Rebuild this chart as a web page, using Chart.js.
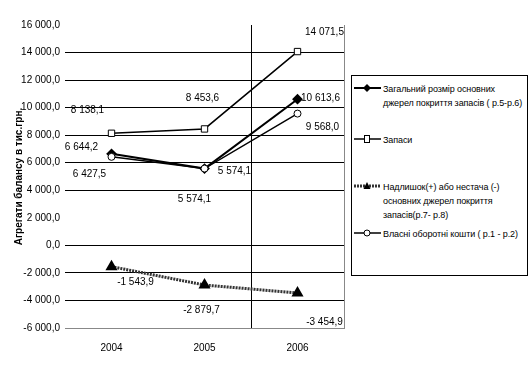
<!DOCTYPE html>
<html>
<head>
<meta charset="utf-8">
<script src="https://cdn.jsdelivr.net/npm/chart.js@4/dist/chart.umd.min.js"></script>
<style>
  html, body { margin: 0; padding: 0; background: #fff; }
  #wrap { position: relative; width: 532px; height: 371px; }
  #legend {
    position: absolute; left: 351px; top: 75px; width: 175px; height: 199px;
    border: 1px solid #000; background: #fff; overflow: hidden;
    font: 9px "Liberation Sans Narrow", "Arial Narrow", sans-serif; color: #000;
  }
  .item { position: absolute; left: 0; width: 175px; }
  .item svg { position: absolute; left: 1px; top: 0; }
  .item .txt { position: absolute; left: 31px; top: 1px; width: 143px; line-height: 14px; white-space: nowrap; letter-spacing: -0.1px; }
</style>
</head>
<body>
<div id="wrap">
  <canvas id="chart" width="532" height="371"></canvas>
  <div id="legend"></div>
</div>
<script>
const years = ["2004", "2005", "2006"];
const seriesNames = [
  "Загальний розмір основних джерел покриття запасів ( р.5-р.6)",
  "Запаси",
  "Надлишок(+) або нестача (-) основних джерел покриття запасів(р.7- р.8)",
  "Власні оборотні кошти ( р.1 - р.2)"
];
// legend wraps the names like the original
const legendLines = [
  ["Загальний розмір основних", "джерел покриття запасів ( р.5-р.6)"],
  ["Запаси"],
  ["Надлишок(+) або нестача (-)", "основних джерел покриття", "запасів(р.7- р.8)"],
  ["Власні оборотні кошти ( р.1 - р.2)"]
];
const totalSources = [6644.2, 5574.1, 10613.6];
const inventory = [8138.1, 8453.6, 14071.5];
const surplus = [-1543.9, -2879.7, -3454.9];
const ownCapital = [6427.5, 5574.1, 9568.0];

// where each value label sits relative to its point
const labelOffsets = [
  [[-30, -7], [30, 3], [23, -1]],
  [[-24, -23], [-2, -31], [27, -19]],
  [[24, 16], [-3, 25], [27, 29]],
  [[-22, 17], [-10, 31], [25, 14]]
];

const fmt = (v) => {
  const s = Math.abs(v).toFixed(1).split(".");
  const int = s[0].replace(/\B(?=(\d{3})+(?!\d))/g, " ");
  return (v < 0 ? "-" : "") + int + "," + s[1];
};

const narrow = "'Liberation Sans Narrow', 'Arial Narrow', sans-serif";

const valueLabels = {
  id: "valueLabels",
  afterDatasetsDraw(chart) {
    const ctx = chart.ctx;
    ctx.save();
    ctx.font = "10px " + narrow;
    ctx.fillStyle = "#000";
    ctx.textAlign = "center";
    ctx.textBaseline = "middle";
    chart.data.datasets.forEach((ds, i) => {
      chart.getDatasetMeta(i).data.forEach((pt, j) => {
        const off = labelOffsets[i][j];
        ctx.fillText(fmt(ds.data[j]), pt.x + off[0], pt.y + off[1]);
      });
    });
    ctx.restore();
  }
};

const chart = new Chart(document.getElementById("chart"), {
  type: "line",
  data: {
    labels: years,
    datasets: [
      {
        label: seriesNames[0], data: totalSources,
        borderColor: "#000", borderWidth: 2,
        pointStyle: "rectRot", pointRadius: 4,
        pointBackgroundColor: "#000", pointBorderColor: "#000",
        order: 2
      },
      {
        label: seriesNames[1], data: inventory,
        borderColor: "#000", borderWidth: 1.5,
        pointStyle: "rect", pointRadius: 4.5,
        pointBackgroundColor: "#fff", pointBorderColor: "#000", pointBorderWidth: 1,
        order: 1
      },
      {
        label: seriesNames[2], data: surplus,
        borderColor: "#333", borderWidth: 3, borderDash: [2, 1],
        pointStyle: "triangle", pointRadius: 4,
        pointBackgroundColor: "#000", pointBorderColor: "#000",
        order: 1
      },
      {
        label: seriesNames[3], data: ownCapital,
        borderColor: "#000", borderWidth: 1.5,
        pointStyle: "circle", pointRadius: 3.5,
        pointBackgroundColor: "#fff", pointBorderColor: "#000", pointBorderWidth: 1,
        order: 0
      }
    ]
  },
  options: {
    responsive: false,
    animation: false,
    layout: { padding: { left: 0, top: 25, right: 188, bottom: 0 } },
    plugins: { legend: { display: false }, tooltip: { enabled: false } },
    elements: { line: { tension: 0 } },
    scales: {
      x: {
        offset: true,
        grid: {
          offset: true,
          drawTicks: false,
          lineWidth: 1,
          color: (c) => c.index === 2 ? "#000" : (c.index === undefined ? "#888" : "rgba(0,0,0,0)")
        },
        border: { display: true, color: "#888" },
        ticks: { padding: 14, color: "#000", font: { family: narrow, size: 10 } },
        afterFit: (s) => { s.height = 43; }
      },
      y: {
        min: -6000, max: 16000,
        ticks: {
          stepSize: 2000, padding: 5, color: "#000",
          font: { family: narrow, size: 10 },
          callback: (v) => fmt(v)
        },
        grid: {
          drawTicks: false,
          color: (c) => {
            const v = c.tick && c.tick.value;
            if (v === 16000 || v === 2000) return "rgba(0,0,0,0)";
            if (v === -6000) return "#888";
            return "#000";
          }
        },
        border: { display: false },
        title: {
          display: true, text: "Агрегати балансу в тис.грн.", color: "#000",
          font: { family: "'Liberation Sans', Arial, sans-serif", size: 10, weight: "bold" },
          padding: { top: 13, bottom: 0 }
        },
        afterFit: (s) => { s.width = 65; }
      }
    }
  },
  plugins: [valueLabels]
});

// legend built from the same dataset styles
const legendTops = [5, 56, 103, 150];
const legend = document.getElementById("legend");
chart.data.datasets.forEach((ds, i) => {
  const row = document.createElement("div");
  row.className = "item";
  row.style.top = legendTops[i] + "px";
  let marker = "";
  if (ds.pointStyle === "rectRot") marker = '<polygon points="14,3 18,7 14,11 10,7" fill="#000"/>';
  if (ds.pointStyle === "rect") marker = '<rect x="11.5" y="3.5" width="5" height="7" fill="#fff" stroke="#000"/>';
  if (ds.pointStyle === "triangle") marker = '<polygon points="14,3 17.5,10 10.5,10" fill="#000"/>';
  if (ds.pointStyle === "circle") marker = '<circle cx="14" cy="7" r="3" fill="#fff" stroke="#000"/>';
  const dash = ds.borderDash ? ' stroke-dasharray="2,1"' : "";
  row.innerHTML =
    '<svg width="30" height="14"><line x1="1" y1="7" x2="28" y2="7" stroke="' + ds.borderColor +
    '" stroke-width="' + ds.borderWidth + '"' + dash + '/>' + marker + '</svg>' +
    '<div class="txt">' + legendLines[i].join("<br>") + '</div>';
  legend.appendChild(row);
});
</script>
</body>
</html>
